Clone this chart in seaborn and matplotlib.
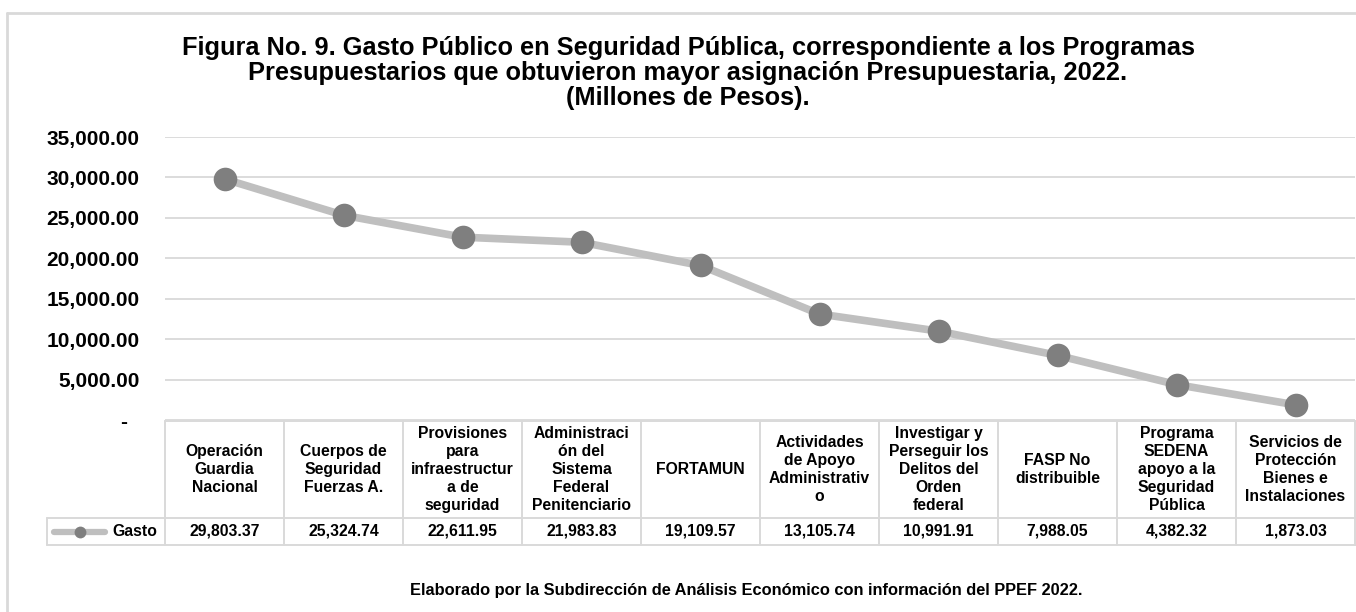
import matplotlib
matplotlib.use("Agg")
import matplotlib.pyplot as plt
import seaborn as sns
import pandas as pd
from matplotlib.lines import Line2D

# data
programas = [
    "Operación\nGuardia\nNacional",
    "Cuerpos de\nSeguridad\nFuerzas A.",
    "Provisiones\npara\ninfraestructur\na de\nseguridad",
    "Administraci\nón del\nSistema\nFederal\nPenitenciario",
    "FORTAMUN",
    "Actividades\nde Apoyo\nAdministrativ\no",
    "Investigar y\nPerseguir los\nDelitos del\nOrden\nfederal",
    "FASP No\ndistribuible",
    "Programa\nSEDENA\napoyo a la\nSeguridad\nPública",
    "Servicios de\nProtección\nBienes e\nInstalaciones",
]
gasto = [29803.37, 25324.74, 22611.95, 21983.83, 19109.57,
         13105.74, 10991.91, 7988.05, 4382.32, 1873.03]
y_ticks = [0, 5000, 10000, 15000, 20000, 25000, 30000, 35000]

title = ("Figura No. 9. Gasto Público en Seguridad Pública, correspondiente a los Programas\n"
         "Presupuestarios que obtuvieron mayor asignación Presupuestaria, 2022.\n"
         "(Millones de Pesos).")
footer = "Elaborado por la Subdirección de Análisis Económico con información del PPEF 2022."

sns.set_theme(style="white")
plt.rcParams["font.family"] = ["Liberation Sans", "DejaVu Sans"]
plt.rcParams["font.weight"] = "bold"
plt.rcParams["text.color"] = "black"
plt.rcParams["ytick.color"] = "black"
plt.rcParams["ytick.labelcolor"] = "black"

W, H = 1356, 612
fig = plt.figure(figsize=(W / 100, H / 100), dpi=100)

def fx(px):
    return px / W

def fy(py):
    return 1 - py / H

GRID = "#D9D9D9"
LINE = "#BFBFBF"
MARK = "#7F7F7F"

ax = fig.add_axes([fx(165), fy(420), fx(1355) - fx(165), fy(137) - fy(420)])
df = pd.DataFrame({"x": range(len(gasto)), "Gasto": gasto})
sns.lineplot(data=df, x="x", y="Gasto", ax=ax, color=LINE, linewidth=5.5,
             marker="o", markersize=17, markerfacecolor=MARK,
             markeredgewidth=0, legend=False)
ax.set_xlim(-0.5, len(gasto) - 0.5)
ax.set_ylim(0, 35000)
ax.set_xticks([])
ax.set_xlabel("")
ax.set_ylabel("")
ax.set_yticks(y_ticks, ["-  "] + [f"{v:,.2f}" for v in y_ticks[1:]])
ax.tick_params(axis="y", length=0, pad=18.5, labelsize=15, labelcolor="black")
for lab in ax.get_yticklabels():
    lab.set_fontweight("bold")
ax.grid(axis="y", color=GRID, linewidth=1.3)
ax.set_axisbelow(True)
for s in ax.spines.values():
    s.set_visible(False)

# data table under the chart
col_w = (1355 - 165) / len(gasto)
top, mid, bot = 421, 518, 545
lw = 1.4
fig.add_artist(Line2D([fx(47), fx(1356)], [fy(mid), fy(mid)], color=GRID, lw=lw))
fig.add_artist(Line2D([fx(47), fx(1356)], [fy(bot), fy(bot)], color=GRID, lw=lw))
fig.add_artist(Line2D([fx(165), fx(1356)], [fy(top), fy(top)], color=GRID, lw=lw))
fig.add_artist(Line2D([fx(47), fx(47)], [fy(mid), fy(bot)], color=GRID, lw=lw))
for k in range(len(gasto) + 1):
    x = 165 + k * col_w
    fig.add_artist(Line2D([fx(x), fx(x)], [fy(top), fy(bot)], color=GRID, lw=lw))
for k, (name, v) in enumerate(zip(programas, gasto)):
    cx = 165 + (k + 0.5) * col_w
    fig.text(fx(cx), fy((top + mid) / 2), name, ha="center", va="center",
             fontsize=11.3, fontweight="bold", linespacing=1.25)
    fig.text(fx(cx), fy((mid + bot) / 2), f"{v:,.2f}", ha="center", va="center",
             fontsize=11.3, fontweight="bold")

# legend key in row label
fig.add_artist(Line2D([fx(54), fx(105)], [fy(532), fy(532)], color=LINE, lw=4.5))
fig.add_artist(Line2D([fx(80)], [fy(532)], color=MARK, marker="o", markersize=8.5,
                      markeredgewidth=0, linestyle="none"))
fig.text(fx(157), fy(532), "Gasto", ha="right", va="center", fontsize=11.3,
         fontweight="bold")

fig.text(fx(688), fy(73), title, ha="center", va="center", fontsize=18.3,
         fontweight="bold", linespacing=1.05)
fig.text(fx(746), fy(591), footer, ha="center", va="center", fontsize=11.8,
         fontweight="bold")

# outer frame
fig.add_artist(Line2D([fx(7), fx(7)], [fy(13), 0], color=GRID, lw=2))
fig.add_artist(Line2D([fx(7), 1], [fy(13), fy(13)], color=GRID, lw=2))

fig.savefig("out.png", dpi=100)
